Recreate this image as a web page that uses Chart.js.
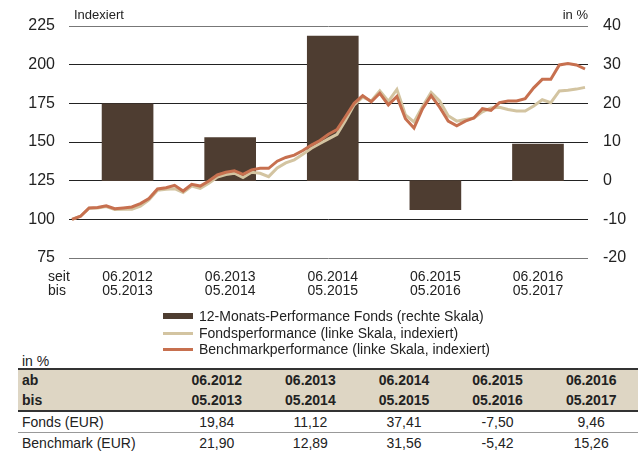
<!DOCTYPE html>
<html>
<head>
<meta charset="utf-8">
<script src="https://cdn.jsdelivr.net/npm/chart.js@4/dist/chart.umd.min.js"></script>
<style>
body { margin: 0; background: #fff; font-family: "Liberation Sans", Arial, sans-serif; color: #222; }
#wrap { position: relative; width: 641px; height: 452px; overflow: hidden; }
#chart { position: absolute; left: 0; top: 0; }
#legend { position: absolute; left: 163px; top: 308px; font-size: 14px; line-height: 16.7px; }
#legend .row { display: flex; align-items: center; white-space: nowrap; }
#legend .sw { display: inline-block; width: 30px; margin-right: 6px; }
#unit { position: absolute; left: 22px; top: 353px; font-size: 14px; }
table { position: absolute; left: 18px; top: 368px; width: 620px; border-collapse: collapse; font-size: 14px; table-layout: fixed; }
td { padding: 0 4px; height: 20px; text-align: center; white-space: nowrap; }
td.lbl { text-align: left; }
tr.head td { background: #ded6c4; font-weight: bold; }
tr.head.first td { border-top: 2px solid #333; }
tr.head.last td { border-bottom: 2px solid #333; }
tr.val td { height: 20px; border-bottom: 1px solid #999; }
</style>
</head>
<body>
<div id="wrap">
  <canvas id="chart" width="641" height="310"></canvas>
  <div id="legend"></div>
  <div id="unit">in %</div>
  <table id="tbl"></table>
</div>
<script>
// Zeiträume (12-Monats-Perioden)
const periodStart = ['06.2012', '06.2013', '06.2014', '06.2015', '06.2016'];
const periodEnd = ['05.2013', '05.2014', '05.2015', '05.2016', '05.2017'];

// 12-Monats-Performance in %
const fondsPerf = [19.84, 11.12, 37.41, -7.50, 9.46];
const benchPerf = [21.90, 12.89, 31.56, -5.42, 15.26];

// monatliche Indexwerte 05.2012 - 05.2017 (Start = 100)
const fondsIndex = [100, 102, 107.2, 107.4, 108.3, 106.3, 106.5, 106.5, 108.5, 112.5,
  118.8, 119.5, 119.8, 117.3, 121.5, 120, 123.3, 127.3, 129, 129.8,
  127, 130.4, 129.8, 127.6, 133.2, 136.5, 138.5, 142, 146, 149,
  152, 155, 164, 174, 179, 176.5, 183, 176.3, 184, 167.5,
  163, 173, 182, 176.5, 167, 163.5, 164.5, 165.5, 169.5, 172,
  172.5, 171, 170, 170, 173.3, 177.3, 175.4, 183, 183.5, 184.2, 185.3];
const benchIndex = [100, 102, 107.4, 107.6, 108.7, 106.9, 107.4, 108, 110.2, 113.4,
  119.6, 120.4, 122, 118.3, 122.6, 121.5, 124.8, 128.7, 130.4, 131.4,
  129.1, 132, 133, 133, 137.6, 140, 141.5, 144.5, 148, 151,
  155, 158, 166.5, 175, 180, 176, 181.5, 174, 179.5, 165,
  159, 171.5, 180, 172.5, 163.5, 160.5, 163.5, 165.5, 171.5, 170.5,
  175.5, 176.5, 176.5, 178, 185, 190.5, 190.5, 199.8, 200.7, 199.8, 197.2];

const seriesNames = [
  '12-Monats-Performance Fonds (rechte Skala)',
  'Fondsperformance (linke Skala, indexiert)',
  'Benchmarkperformance (linke Skala, indexiert)'
];
const colors = ['#4e3d31', '#d3c4a1', '#c7704f'];

const FONT = '"Liberation Sans", Arial, sans-serif';

// Periode k umfasst die Monate 12k+1 .. 12k+12
const periodMid = k => 12 * k + 6.5;

const textPlugin = {
    id: 'extraText',
    afterDraw(chart) {
        const ctx = chart.ctx;
        const area = chart.chartArea;
        const xs = chart.scales.x;
        ctx.save();
        ctx.fillStyle = '#222';
        ctx.font = '13px ' + FONT;
        ctx.textBaseline = 'middle';
        ctx.textAlign = 'left';
        ctx.fillText('Indexiert', area.left + 5, area.top - 11);
        ctx.textAlign = 'right';
        ctx.fillText('in %', area.right, area.top - 11);
        ctx.font = '14px ' + FONT;
        ctx.textAlign = 'left';
        ctx.fillText('seit', 48, xs.top + 19);
        ctx.fillText('bis', 48, xs.top + 33);
        ctx.restore();
    }
};

const chart = new Chart(document.getElementById('chart'), {
    type: 'line',
    data: {
        datasets: [
            {
                type: 'bar',
                label: seriesNames[0],
                data: fondsPerf.map((v, k) => ({x: periodMid(k), y: v})),
                backgroundColor: colors[0],
                borderWidth: 0,
                barThickness: 51,
                yAxisID: 'y1',
                order: 3
            },
            {
                label: seriesNames[1],
                data: fondsIndex.map((v, i) => ({x: i, y: v})),
                borderColor: colors[1],
                borderWidth: 3,
                pointRadius: 0,
                tension: 0,
                yAxisID: 'y',
                order: 2
            },
            {
                label: seriesNames[2],
                data: benchIndex.map((v, i) => ({x: i, y: v})),
                borderColor: colors[2],
                borderWidth: 3,
                pointRadius: 0,
                tension: 0,
                yAxisID: 'y',
                order: 1
            }
        ]
    },
    options: {
        responsive: false,
        animation: false,
        devicePixelRatio: 1,
        layout: {
            padding: {top: 26, bottom: 0, left: 0, right: 0}
        },
        plugins: {
            legend: {display: false},
            tooltip: {enabled: false}
        },
        scales: {
            x: {
                type: 'linear',
                offset: false,
                min: -0.35,
                max: 60.35,
                grid: {display: false, drawTicks: false},
                border: {display: false},
                afterBuildTicks: axis => {
                    axis.ticks = periodStart.map((_, k) => ({value: periodMid(k)}));
                },
                ticks: {
                    autoSkip: false,
                    maxRotation: 0,
                    padding: 12,
                    color: '#222',
                    font: {family: FONT, size: 14, lineHeight: 1},
                    callback: (v, i) => [periodStart[i], periodEnd[i]]
                }
            },
            y: {
                position: 'left',
                min: 75,
                max: 225,
                afterFit: s => { s.width = 69; },
                grid: {
                    drawTicks: false,
                    color: c => (c.index === 0 || c.index === 6) ? '#777' : '#222',
                    lineWidth: 1
                },
                border: {display: false},
                ticks: {
                    stepSize: 25,
                    padding: 14,
                    color: '#222',
                    font: {family: FONT, size: 16}
                }
            },
            y1: {
                position: 'right',
                min: -20,
                max: 40,
                afterFit: s => { s.width = 53; },
                grid: {display: false, drawTicks: false},
                border: {display: false},
                ticks: {
                    stepSize: 10,
                    padding: 15,
                    color: '#222',
                    font: {family: FONT, size: 16}
                }
            }
        }
    },
    plugins: [textPlugin]
});

// Legende aus den Datensätzen
const legend = document.getElementById('legend');
chart.data.datasets.forEach(ds => {
    const row = document.createElement('div');
    row.className = 'row';
    const sw = document.createElement('span');
    sw.className = 'sw';
    sw.style.height = ds.type === 'bar' ? '6px' : '3px';
    sw.style.background = ds.type === 'bar' ? ds.backgroundColor : ds.borderColor;
    row.appendChild(sw);
    row.appendChild(document.createTextNode(ds.label));
    legend.appendChild(row);
});

// Tabelle
const fmt = v => v.toFixed(2).replace('.', ',');
const tbl = document.getElementById('tbl');
const rows = [
    {cls: 'head first', label: 'ab', cells: periodStart},
    {cls: 'head last', label: 'bis', cells: periodEnd},
    {cls: 'val', label: 'Fonds (EUR)', cells: fondsPerf.map(fmt)},
    {cls: 'val', label: 'Benchmark (EUR)', cells: benchPerf.map(fmt)}
];
let html = '<colgroup><col style="width:152px">' + '<col>'.repeat(5) + '</colgroup>';
rows.forEach(r => {
    html += '<tr class="' + r.cls + '"><td class="lbl">' + r.label + '</td>' +
        r.cells.map(c => '<td>' + c + '</td>').join('') + '</tr>';
});
tbl.innerHTML = html;
</script>
</body>
</html>
